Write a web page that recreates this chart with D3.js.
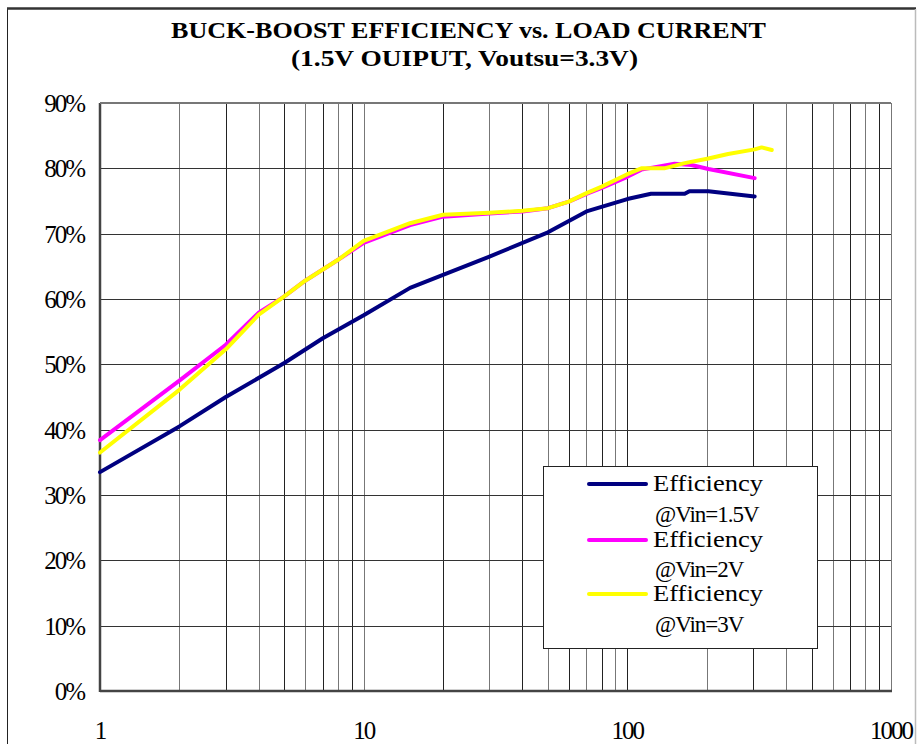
<!DOCTYPE html>
<html lang="en">
<head>
    <meta charset="UTF-8">
    <title>Buck-Boost Efficiency vs. Load Current</title>
    <script src="https://d3js.org/d3.v7.min.js"></script>
    <style>
        body { margin: 0; background: #fff; }
        text { font-family: "Liberation Serif", "DejaVu Serif", serif; }
    </style>
</head>
<body>
    <script>
        // Load current (mA) and efficiency (%)
        const load15 = [1, 2, 3, 5, 7, 10, 15, 20, 30, 50, 70, 100, 123, 165, 172, 203, 304];
        const eff15  = [33.5, 40.5, 45.0, 50.2, 54.0, 57.5, 61.7, 63.7, 66.5, 70.2, 73.4, 75.3, 76.1, 76.1, 76.5, 76.5, 75.7];

        const load2 = [1, 2, 3, 4, 5, 6, 8, 10, 15, 20, 30, 40, 50, 60, 70, 80, 100, 113, 151, 175, 203, 304];
        const eff2  = [38.4, 47.5, 53.0, 57.9, 60.4, 62.8, 66.0, 68.6, 71.3, 72.6, 73.1, 73.4, 73.9, 74.9, 76.1, 77.0, 78.7, 79.8, 80.7, 80.5, 79.9, 78.5];

        const load3 = [1, 2, 3, 4, 5, 6, 8, 10, 15, 20, 30, 40, 50, 60, 70, 80, 100, 113, 138, 165, 203, 241, 304, 323, 353];
        const eff3  = [36.5, 46.1, 52.3, 57.6, 60.4, 62.8, 66.0, 68.9, 71.6, 72.9, 73.2, 73.5, 73.9, 74.9, 76.2, 77.2, 79.1, 80.0, 80.0, 80.8, 81.5, 82.2, 82.9, 83.2, 82.8];

        const seriesNames = ["Efficiency\n@Vin=1.5V", "Efficiency\n@Vin=2V", "Efficiency\n@Vin=3V"];
        const seriesColors = ["#000080", "#ff00ff", "#ffff00"];
        const xTicks = [1, 10, 100, 1000];
        const yTicks = [0, 10, 20, 30, 40, 50, 60, 70, 80, 90];

        const width = 917, height = 744;
        const svg = d3.select("body").append("svg")
            .attr("width", width)
            .attr("height", height);

        // outer frame
        svg.append("rect")
            .attr("x", 7.5).attr("y", 8.5)
            .attr("width", 908).attr("height", 760)
            .attr("fill", "none")
            .attr("stroke", "#222")
            .attr("stroke-width", 1);
        svg.append("line")
            .attr("x1", 7).attr("x2", 916).attr("y1", 8.5).attr("y2", 8.5)
            .attr("stroke", "#333").attr("stroke-width", 2.5);
        svg.append("line")
            .attr("x1", 915.5).attr("x2", 915.5).attr("y1", 9).attr("y2", 744)
            .attr("stroke", "#bbb").attr("stroke-width", 1.5);

        const x = d3.scaleLog().domain([1, 1000]).range([100, 891]);
        const y = d3.scaleLinear().domain([0, 90]).range([691, 103]);

        // Title
        svg.append("text")
            .attr("x", 171).attr("y", 38)
            .attr("textLength", 595).attr("lengthAdjust", "spacingAndGlyphs")
            .attr("font-size", "24px").attr("font-weight", "bold")
            .text("BUCK-BOOST EFFICIENCY vs. LOAD CURRENT");
        svg.append("text")
            .attr("x", 291).attr("y", 66)
            .attr("textLength", 347).attr("lengthAdjust", "spacingAndGlyphs")
            .attr("font-size", "24px").attr("font-weight", "bold")
            .text("(1.5V OUIPUT, Voutsu=3.3V)");

        // Grid: vertical log lines
        const minor = [];
        for (let d = 1; d < 1000; d *= 10) {
            for (let k = 1; k < 10; k++) minor.push(d * k);
        }
        minor.push(1000);
        svg.append("g").selectAll("line")
            .data(minor)
            .enter().append("line")
            .attr("x1", d => Math.round(x(d)) + 0.5)
            .attr("x2", d => Math.round(x(d)) + 0.5)
            .attr("y1", y(90)).attr("y2", y(0))
            .attr("stroke", (d, i) => i % 2 ? "#777" : "#222")
            .attr("stroke-width", 1);

        // Grid: horizontal lines
        svg.append("g").selectAll("line")
            .data(yTicks)
            .enter().append("line")
            .attr("x1", x(1)).attr("x2", x(1000))
            .attr("y1", d => Math.round(y(d)) + 0.5)
            .attr("y2", d => Math.round(y(d)) + 0.5)
            .attr("stroke", "#333")
            .attr("stroke-width", 1);

        // Axes lines (thicker left and bottom)
        svg.append("line")
            .attr("x1", x(1)).attr("x2", x(1))
            .attr("y1", y(90)).attr("y2", y(0) + 1)
            .attr("stroke", "#444").attr("stroke-width", 2.5);
        svg.append("line")
            .attr("x1", x(1)).attr("x2", x(1000) + 1)
            .attr("y1", y(0)).attr("y2", y(0))
            .attr("stroke", "#444").attr("stroke-width", 2.5);
        svg.append("line")
            .attr("x1", x(1)).attr("x2", x(1000))
            .attr("y1", y(90)).attr("y2", y(90))
            .attr("stroke", "#777").attr("stroke-width", 2);

        // Y tick labels
        svg.append("g").selectAll("text")
            .data(yTicks)
            .enter().append("text")
            .attr("x", 84)
            .attr("y", d => y(d) + 9)
            .attr("text-anchor", "end")
            .attr("font-size", "25px")
            .attr("letter-spacing", "-2px")
            .text(d => d + "%");

        // X tick labels
        svg.append("g").selectAll("text")
            .data(xTicks)
            .enter().append("text")
            .attr("x", d => x(d))
            .attr("y", 739)
            .attr("text-anchor", "middle")
            .attr("font-size", "25px")
            .attr("letter-spacing", "-2px")
            .text(d => d);

        // Lines
        const series = [
            load15.map((v, i) => [v, eff15[i]]),
            load2.map((v, i) => [v, eff2[i]]),
            load3.map((v, i) => [v, eff3[i]])
        ];
        const line = d3.line()
            .x(d => x(d[0]))
            .y(d => y(d[1]));
        svg.append("g").selectAll("path")
            .data(series)
            .enter().append("path")
            .attr("d", line)
            .attr("fill", "none")
            .attr("stroke", (d, i) => seriesColors[i])
            .attr("stroke-width", 4)
            .attr("stroke-linejoin", "round")
            .attr("stroke-linecap", "round");

        // Legend
        const legend = svg.append("g");
        legend.append("rect")
            .attr("x", 543.5).attr("y", 466.5)
            .attr("width", 274).attr("height", 182)
            .attr("fill", "#fff")
            .attr("stroke", "#222").attr("stroke-width", 1);
        const legendY = [484, 540, 594];
        const secondY = [522, 577, 632];
        seriesNames.forEach((name, i) => {
            const parts = name.split("\n");
            legend.append("line")
                .attr("x1", 589).attr("x2", 646)
                .attr("y1", legendY[i]).attr("y2", legendY[i])
                .attr("stroke", seriesColors[i])
                .attr("stroke-width", 4)
                .attr("stroke-linecap", "round");
            legend.append("text")
                .attr("x", 653).attr("y", legendY[i] + 7)
                .attr("font-size", "23px")
                .attr("textLength", 110).attr("lengthAdjust", "spacingAndGlyphs")
                .text(parts[0]);
            legend.append("text")
                .attr("x", 655).attr("y", secondY[i])
                .attr("font-size", "23px")
                .attr("letter-spacing", "-1px")
                .text(parts[1]);
        });
    </script>
</body>
</html>
